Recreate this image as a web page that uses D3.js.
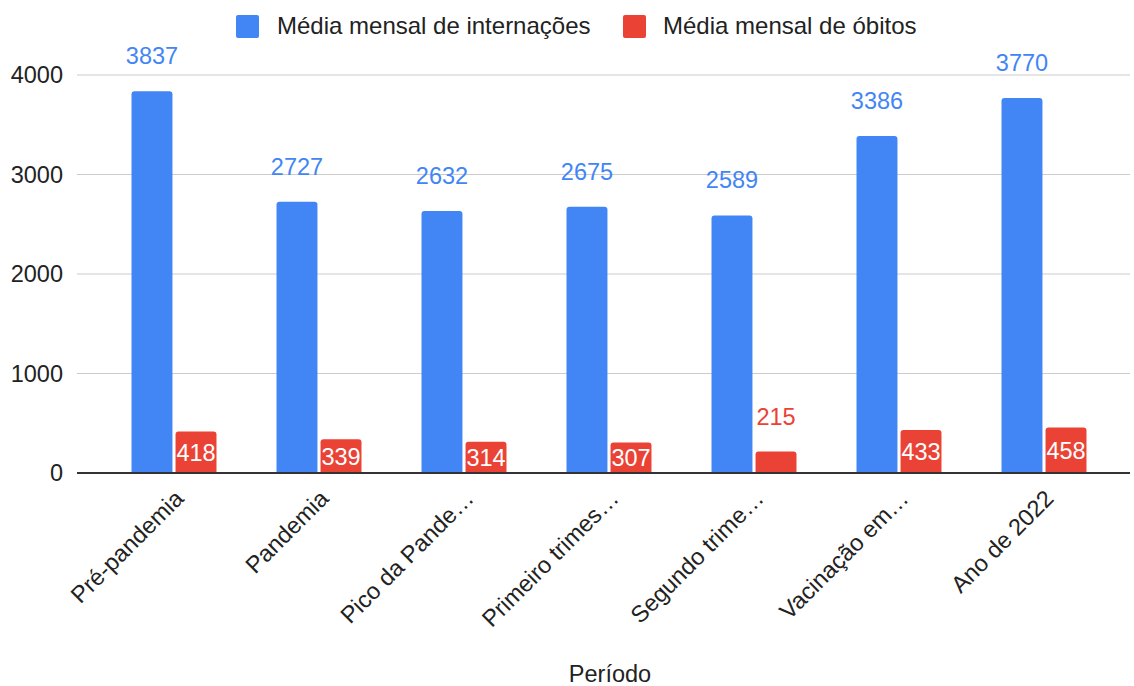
<!DOCTYPE html>
<html><head><meta charset="utf-8">
<script src="https://cdn.jsdelivr.net/npm/d3@7"></script>
<style>body{margin:0;background:#fff;} text{font-family:"Liberation Sans",Arial,sans-serif;}</style>
</head><body><svg id="c" width="1134" height="686"></svg>
<script>
const categories = ["Pré-pandemia","Pandemia","Pico da Pande…","Primeiro trimes…","Segundo trime…","Vacinação em…","Ano de 2022"];
const internacoes = [3837,2727,2632,2675,2589,3386,3770];
const obitos = [418,339,314,307,215,433,458];
const seriesNames = ["Média mensal de internações","Média mensal de óbitos"];
const colors = ["#4285f4","#ea4335"];
const yTicks = [0,1000,2000,3000,4000];

const svg = d3.select("#c");
const plotL=77, plotR=1130;
const FS = 23.5;
const y = d3.scaleLinear().domain([0,4000]).range([473,75]);
const x0 = d3.scaleBand().domain(categories).range([101.5,1116.5]).paddingInner(0.414).paddingOuter(0.207);
const x1 = d3.scaleBand().domain([0,1]).range([0,x0.bandwidth()]).paddingInner(0.07);

svg.append("g").selectAll("line").data(yTicks.filter(d=>d>0)).join("line")
  .attr("x1",plotL).attr("x2",plotR).attr("y1",d=>y(d)).attr("y2",d=>y(d))
  .attr("stroke","#cccccc").attr("stroke-width",1.2);
svg.append("g").selectAll("text").data(yTicks).join("text")
  .attr("x",63).attr("y",d=>y(d)).attr("dy","0.35em").attr("text-anchor","end")
  .attr("font-size",FS).attr("fill","#222").text(d=>d);

function barPath(x,w,top,bottom,r){
  r=Math.min(r,(bottom-top));
  return `M${x},${bottom}V${top+r}Q${x},${top} ${x+r},${top}H${x+w-r}Q${x+w},${top} ${x+w},${top+r}V${bottom}Z`;
}
const data = categories.map((c,i)=>({c,vals:[internacoes[i],obitos[i]]}));
const g = svg.append("g");
data.forEach(d=>{
  d.vals.forEach((v,s)=>{
    const bx = x0(d.c)+x1(s), bw=x1.bandwidth();
    g.append("path").attr("d",barPath(bx,bw,y(v),y(0),3)).attr("fill",colors[s]);
    const h = y(0)-y(v);
    if(s===1 && h>30){
      g.append("text").attr("x",bx+bw/2).attr("y",(y(v)+y(0))/2).attr("dy","0.36em")
        .attr("text-anchor","middle").attr("font-size",FS).attr("fill","#fff").text(v);
    } else {
      g.append("text").attr("x",bx+bw/2).attr("y",y(v)-27)
        .attr("text-anchor","middle").attr("font-size",FS).attr("fill",colors[s]).text(v);
    }
  });
});
svg.append("line").attr("x1",plotL).attr("x2",plotR).attr("y1",y(0)).attr("y2",y(0))
  .attr("stroke","#333").attr("stroke-width",2);

svg.append("g").selectAll("text").data(categories).join("text")
  .attr("transform",d=>`translate(${x0(d)+x0.bandwidth()/2+11},${y(0)+27}) rotate(-45)`)
  .attr("text-anchor","end").attr("font-size",FS).attr("fill","#222").text(d=>d);

svg.append("text").attr("x",610).attr("y",682).attr("text-anchor","middle")
  .attr("font-size",FS).attr("fill","#222").text("Período");

const leg = [{x:236,tx:277},{x:623,tx:663}];
seriesNames.forEach((n,i)=>{
  svg.append("rect").attr("x",leg[i].x).attr("y",15).attr("width",23).attr("height",23).attr("rx",2).attr("fill",colors[i]);
  svg.append("text").attr("x",leg[i].tx).attr("y",34).attr("font-size",24).attr("fill","#222").text(n);
});
</script></body></html>
